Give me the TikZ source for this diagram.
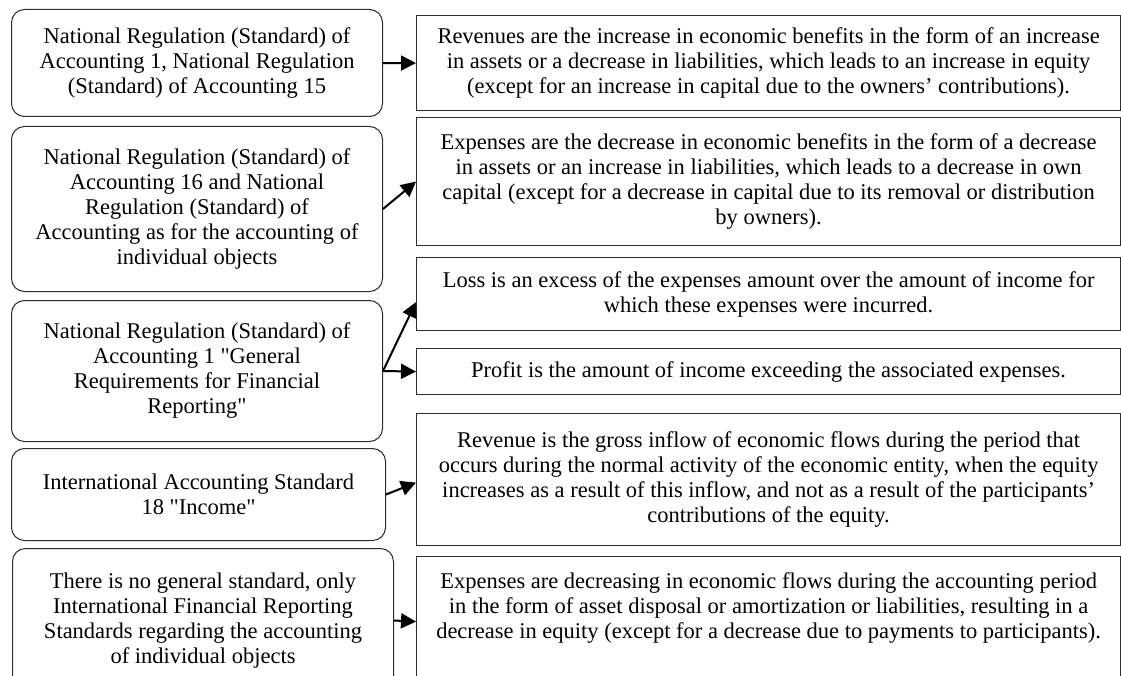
\documentclass[tikz,border=0pt]{standalone}
\usepackage{fontspec}
\setmainfont{Liberation Serif}
\usepackage{tikz}
\usetikzlibrary{arrows.meta,positioning}
\definecolor{dfborder}{RGB}{45,45,45}
\tikzstyle{arrow} = [line width=2pt,-{Triangle[length=15pt,width=15pt]},color=black]
\tikzstyle{stdbox} = [rectangle, rounded corners=13pt, anchor=north west, inner sep=0pt, align=center, draw=dfborder, line width=1pt, font=\fontsize{22.5}{25}\selectfont]
\tikzstyle{defbox} = [rectangle, anchor=north west, inner sep=0pt, minimum width=704pt, align=center, draw=dfborder, line width=1.2pt, font=\fontsize{22.5}{25}\selectfont]
\begin{document}
\begin{tikzpicture}[x=1pt,y=-1pt]
\clip (0,0) rectangle (1121,676);
% Standards
\node[stdbox, minimum width=371pt, minimum height=107pt] (nsa1) at (11,9) {National Regulation (Standard) of\\Accounting 1, National Regulation\\(Standard) of Accounting 15};
\node[stdbox, minimum width=371pt, minimum height=165pt] (nsa16) at (11,126) {National Regulation (Standard) of\\Accounting 16 and National\\Regulation (Standard) of\\Accounting as for the accounting of\\individual objects};
\node[stdbox, minimum width=371pt, minimum height=141pt] (nsa1gen) at (11,300) {National Regulation (Standard) of\\Accounting 1 \textquotedbl General\\Requirements for Financial\\Reporting\textquotedbl};
\node[stdbox, minimum width=374pt, minimum height=92pt] (ias18) at (11,448) {International Accounting Standard\\18 \textquotedbl Income\textquotedbl};
\node[stdbox, minimum width=381pt, minimum height=144pt] (ifrs) at (12,548) {There is no general standard, only\\International Financial Reporting\\Standards regarding the accounting\\of individual objects};
% Definitions
\node[defbox, minimum height=95pt] (revenue) at (416,15) {Revenues are the increase in economic benefits in the form of an increase\\in assets or a decrease in liabilities, which leads to an increase in equity\\(except for an increase in capital due to the owners’ contributions).};
\node[defbox, minimum height=128pt] (expense) at (416,117) {Expenses are the decrease in economic benefits in the form of a decrease\\in assets or an increase in liabilities, which leads to a decrease in own\\capital (except for a decrease in capital due to its removal or distribution\\by owners).};
\node[defbox, minimum height=73pt] (loss) at (416,257) {Loss is an excess of the expenses amount over the amount of income for\\which these expenses were incurred.};
\node[defbox, minimum height=46pt] (profit) at (416,348) {Profit is the amount of income exceeding the associated expenses.};
\node[defbox, minimum height=132pt] (revenueias) at (416,413) {Revenue is the gross inflow of economic flows during the period that\\occurs during the normal activity of the economic entity, when the equity\\increases as a result of this inflow, and not as a result of the participants’\\contributions of the equity.};
\node[defbox, minimum height=130pt] (expenseifrs) at (416,556) {Expenses are decreasing in economic flows during the accounting period\\in the form of asset disposal or amortization or liabilities, resulting in a\\decrease in equity (except for a decrease due to payments to participants).\\ \strut};

\draw[arrow] (nsa1) -- (revenue);
\draw[arrow] (nsa16.east) -- (expense.west);
\draw[arrow] (nsa1gen.east) -- ([yshift=-8pt]loss.west);
\draw[arrow] (nsa1gen.east) -- (profit.west);
\draw[arrow] (ias18.east) -- ([yshift=-3pt]revenueias.west);
\draw[arrow] (ifrs.east) -- (expenseifrs.west);
\end{tikzpicture}
\end{document}
